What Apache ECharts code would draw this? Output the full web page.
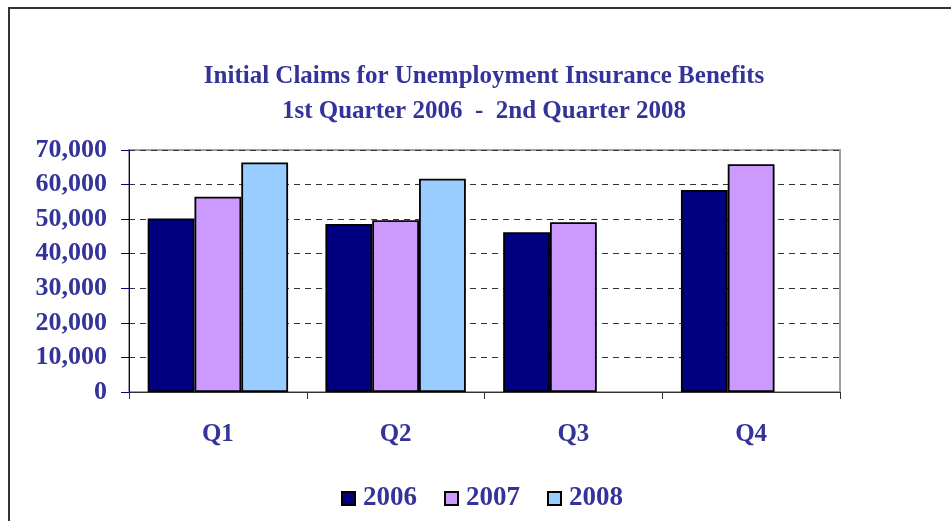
<!DOCTYPE html>
<html>
<head>
<meta charset="utf-8">
<script src="https://cdn.jsdelivr.net/npm/echarts@6/dist/echarts.min.js"></script>
<style>
  html, body { margin: 0; padding: 0; background: #fff; }
  #chart { width: 951px; height: 521px; }
</style>
</head>
<body>
<div id="chart"></div>
<script>
// Quarterly initial claims, by year
const quarters = ['Q1', 'Q2', 'Q3', 'Q4'];
const years = ['2006', '2007', '2008'];
const claims2006 = [50200, 48600, 46200, 58400];
const claims2007 = [56500, 49700, 49100, 65900];
const claims2008 = [66400, 61700, null, null];
const yTicks = [0, 10000, 20000, 30000, 40000, 50000, 60000, 70000];

const textColor = '#333399';
const fontFamily = '"Liberation Serif", "Times New Roman", serif';
const barColors = ['#000080', '#CC99FF', '#99CCFF'];
const seriesData = [claims2006, claims2007, claims2008];

const chart = echarts.init(document.getElementById('chart'), null, { renderer: 'canvas' });

chart.setOption({
  animation: false,
  backgroundColor: '#fff',
  title: {
    text: 'Initial Claims for Unemployment Insurance Benefits\n1st Quarter 2006  -  2nd Quarter 2008',
    left: 479,
    textAlign: 'center',
    top: 54,
    textStyle: {
      color: textColor,
      fontFamily: fontFamily,
      fontWeight: 'bold',
      fontSize: 25,
      lineHeight: 35
    }
  },
  legend: {
    data: years,
    top: 480,
    left: 336,
    itemWidth: 13,
    itemHeight: 13,
    itemGap: 27,
    icon: 'rect',
    textStyle: {
      color: textColor,
      fontFamily: fontFamily,
      fontWeight: 'bold',
      fontSize: 27,
      padding: [0, 0, 0, 3]
    }
  },
  grid: {
    left: 129,
    right: 111,
    top: 150,
    bottom: 129,
    show: true,
    borderColor: '#a0a0a0',
    borderWidth: 2,
    backgroundColor: '#fff'
  },
  xAxis: {
    type: 'category',
    data: quarters,
    axisLine: { lineStyle: { color: '#333', width: 1 } },
    axisTick: { show: true, length: 7, lineStyle: { color: '#333' } },
    axisLabel: {
      margin: 30,
      color: textColor,
      fontFamily: fontFamily,
      fontWeight: 'bold',
      fontSize: 25
    }
  },
  yAxis: {
    type: 'value',
    min: 0,
    max: 70000,
    interval: 10000,
    axisLine: { show: true, lineStyle: { color: '#000080', width: 1 } },
    axisTick: { show: true, length: 8, lineStyle: { color: '#000080' } },
    splitLine: {
      show: true,
      lineStyle: { color: '#333', type: [6, 5], width: 1 }
    },
    axisLabel: {
      margin: 22,
      color: textColor,
      fontFamily: fontFamily,
      fontWeight: 'bold',
      fontSize: 26,
      formatter: function (v) {
        return yTicks.indexOf(v) >= 0 ? v.toLocaleString('en-US') : '';
      }
    }
  },
  series: years.map(function (y, i) {
    return {
      name: y,
      type: 'bar',
      data: seriesData[i],
      barGap: '0%',
      barCategoryGap: '21%',
      itemStyle: {
        color: barColors[i],
        borderColor: '#000',
        borderWidth: 1.8
      }
    };
  }),
  graphic: [{
    type: 'rect',
    z: 100,
    silent: true,
    shape: { x: 9, y: 8, width: 980, height: 560 },
    style: { fill: null, stroke: '#333', lineWidth: 2 }
  }]
});
</script>
</body>
</html>
